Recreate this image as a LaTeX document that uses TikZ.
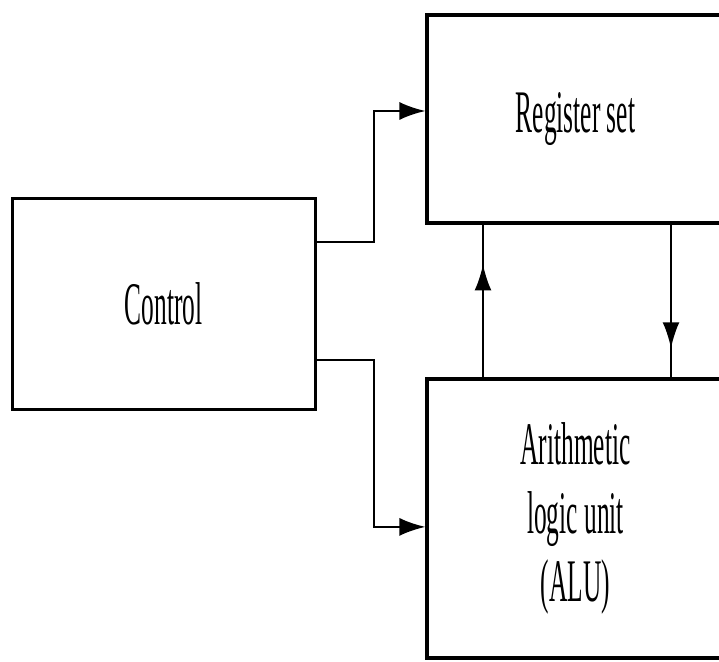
\documentclass[tikz,border=0pt]{standalone}
\usepackage{fontspec}
\setmainfont{Liberation Serif}[FakeStretch=0.42]
\usetikzlibrary{arrows.meta,decorations.markings}

\tikzset{
    block/.style={draw, line width=2.2pt, align=center, font=\fontsize{43}{49}\selectfont},
    conn/.style={line width=1.6pt},
    tip/.style={-{Latex[length=0.65cm,width=0.45cm]}},
    midtip/.style={postaction={decorate}, decoration={markings,
        mark=at position #1 with {\arrow{Latex[length=0.65cm,width=0.42cm]}}}}
}

\begin{document}
\begin{tikzpicture}
    \useasboundingbox (0,0) rectangle (17.975,16.55);

    \node[block, minimum width=7.575cm, minimum height=5.275cm] (ctrl) at (4.09,8.96) {Control};
    \node[block, minimum width=7.425cm, minimum height=5.2cm] (reg) at (14.3875,13.575) {Register set};
    \node[block, minimum width=7.425cm, minimum height=6.975cm] (alu) at (14.3875,3.5875) {Arithmetic\\logic unit\\(ALU)};

    % control lines
    \draw[conn, tip] ([yshift=1.54cm]ctrl.east) -- ++(1.425,0) |- ([yshift=0.2cm]reg.west);
    \draw[conn, tip] ([yshift=-1.41cm]ctrl.east) -- ++(1.425,0) |- ([yshift=-0.21cm]alu.west);

    % data between register set and ALU
    \draw[conn, midtip=0.74] ([xshift=-2.3125cm]alu.north) -- ([xshift=-2.3125cm]reg.south);
    \draw[conn, midtip=0.81] ([xshift=2.3875cm]reg.south) -- ([xshift=2.3875cm]alu.north);
\end{tikzpicture}
\end{document}
